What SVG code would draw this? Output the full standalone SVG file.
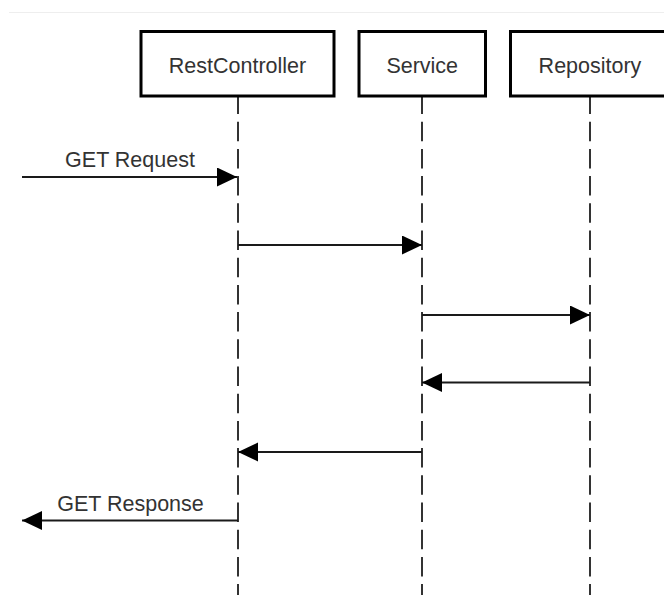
<svg xmlns="http://www.w3.org/2000/svg" width="664" height="595" viewBox="0 0 664 595">
  <style>
    .box { fill: #ffffff; stroke: #000000; stroke-width: 3; }
    .lbl { font-family: "Liberation Sans", Arial, sans-serif; font-size: 21.5px; fill: #333333; text-anchor: middle; }
    .life { stroke: #333333; stroke-width: 2; stroke-dasharray: 19.5 7.7; fill: none; }
    .msg { stroke: #1a1a1a; stroke-width: 2; fill: none; marker-end: url(#arrow); }
  </style>
  <defs>
    <marker id="arrow" markerUnits="userSpaceOnUse" markerWidth="21" markerHeight="20" refX="20" refY="9.5" orient="auto">
      <path d="M0,0 L20,9.5 L0,19 Z" fill="#000000"/>
    </marker>
  </defs>
  <rect width="664" height="595" fill="#ffffff"/>
  <line x1="9" y1="12.5" x2="664" y2="12.5" stroke="#eeeeee" stroke-width="1"/>

  <g id="lifelines">
    <line class="life" x1="238" y1="94.5" x2="238" y2="595"/>
    <line class="life" x1="422" y1="94.5" x2="422" y2="595"/>
    <line class="life" x1="590" y1="94.5" x2="590" y2="595"/>
  </g>

  <g id="node-restcontroller">
    <rect class="box" x="141" y="31.5" width="193" height="64.5"/>
    <text class="lbl" x="237.5" y="73">RestController</text>
  </g>
  <g id="node-service">
    <rect class="box" x="359" y="31.5" width="126.5" height="64.5"/>
    <text class="lbl" x="422.25" y="73">Service</text>
  </g>
  <g id="node-repository">
    <rect class="box" x="510.5" y="31.5" width="159" height="64.5"/>
    <text class="lbl" x="590" y="73">Repository</text>
  </g>

  <g id="connectors">
    <line class="msg" x1="22" y1="177" x2="237" y2="177"/>
    <text class="lbl" x="130" y="166.5">GET Request</text>
    <line class="msg" x1="238" y1="245" x2="422" y2="245"/>
    <line class="msg" x1="422" y1="315" x2="590" y2="315"/>
    <line class="msg" x1="590" y1="382.5" x2="422" y2="382.5"/>
    <line class="msg" x1="422" y1="452" x2="238" y2="452"/>
    <line class="msg" x1="238" y1="520.5" x2="22" y2="520.5"/>
    <text class="lbl" x="130.5" y="510.5">GET Response</text>
  </g>
</svg>
